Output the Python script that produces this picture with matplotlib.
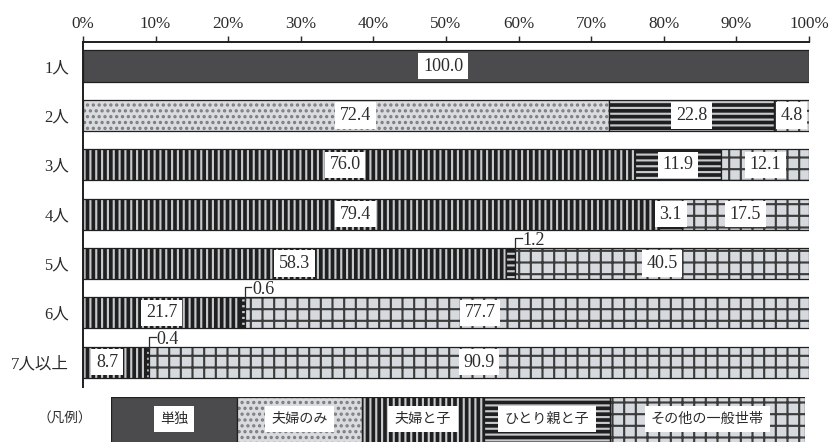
import matplotlib
matplotlib.use("Agg")
import matplotlib.pyplot as plt
from matplotlib.transforms import blended_transform_factory

# household size (rows) and household type (stacked segments), percent
rows = ["1人", "2人", "3人", "4人", "5人", "6人", "7人以上"]
categories = ["単独", "夫婦のみ", "夫婦と子", "ひとり親と子", "その他の一般世帯"]
single = [100.0, 0, 0, 0, 0, 0, 0]
couple_only = [0, 72.4, 0, 0, 0, 0, 0]
couple_child = [0, 0, 76.0, 79.4, 58.3, 21.7, 8.7]
single_parent = [0, 22.8, 11.9, 3.1, 1.2, 0.6, 0.4]
other = [0, 4.8, 12.1, 17.5, 40.5, 77.7, 90.9]
series = [single, couple_only, couple_child, single_parent, other]
xticks = [0, 10, 20, 30, 40, 50, 60, 70, 80, 90, 100]

# fill style per household type: face colour, hatch, hatch colour
# (stripes are light lines on a dark face)
styles = [
    dict(face="#4b4b4d", hatch=None, hcol="#4b4b4d"),
    dict(face="#d9dbde", hatch="..", hcol="#7a7c80"),
    dict(face="#1f1f1f", hatch="||", hcol="#c6cacd"),
    dict(face="#1f1f1f", hatch="--", hcol="#c6cacd"),
    dict(face="#d6d9dd", hatch="+", hcol="#3c3c3c"),
]
EDGE = "#202020"
TXT = "#2b2b2b"

# some value boxes sit off the segment centre
label_x = {(0, 0): 49.6, (1, 1): 37.5, (2, 2): 36.1, (3, 2): 37.5,
           (5, 4): 54.7, (6, 2): 3.3}

DPI = 70
plt.rcParams["font.family"] = ["Liberation Serif", "Noto Sans CJK JP"]
plt.rcParams["hatch.linewidth"] = 2.2
fig = plt.figure(figsize=(830 / DPI, 442 / DPI), dpi=DPI)
ax = fig.add_axes([83 / 830, 1 - 387 / 442, (809 - 83) / 830, (387 - 42) / 442])

BAR_H = 0.63


def draw_segment(axis, y, left, width, height, st):
    # filled + hatched body, then a plain dark outline on top
    axis.barh(y, width, left=left, height=height, color=st["face"],
              edgecolor=st["hcol"], hatch=st["hatch"], linewidth=0)
    axis.barh(y, width, left=left, height=height, fill=False,
              edgecolor=EDGE, linewidth=1.3)


box = dict(boxstyle="square,pad=0.26", facecolor="white", edgecolor="none")

for i in range(len(rows)):
    cum = 0.0
    for k, vals in enumerate(series):
        v = vals[i]
        if v <= 0:
            continue
        draw_segment(ax, i, cum, v, BAR_H, styles[k])
        if v >= 3:
            x = label_x.get((i, k), cum + v / 2)
            ax.text(x, i, f"{v:.1f}", ha="center", va="center", fontsize=18.5,
                    color=TXT, bbox=box, zorder=5)
        else:
            xe = cum + v
            ax.plot([xe, xe, xe + 0.9], [i - 0.26, i - 0.52, i - 0.52],
                    color=TXT, lw=1.3, zorder=5, clip_on=False)
            ax.text(xe + 1.0, i - 0.47, f"{v:.1f}", ha="left", va="center",
                    fontsize=18.5, color=TXT, zorder=5)
        cum += v

ax.set_xlim(0, 100)
ax.set_ylim(6.5, -0.486)
ax.xaxis.tick_top()
ax.set_xticks(xticks)
ax.set_xticklabels([f"{t}%" for t in xticks], fontsize=17.5, color=TXT)
ax.set_yticks(range(len(rows)))
ax.set_yticklabels(rows, fontsize=17, color=TXT)
ax.tick_params(axis="x", direction="out", length=6, width=1.5, pad=4, colors=TXT)
ax.tick_params(axis="y", length=0, pad=14.5)
for s in ("right", "bottom"):
    ax.spines[s].set_visible(False)
for s in ("top", "left"):
    ax.spines[s].set_linewidth(2)
    ax.spines[s].set_color("#1e1e1e")

# legend strip below the chart
leg_w = [126, 125, 122, 126, 195]
lax = fig.add_axes([111 / 830, -0.06, sum(leg_w) / 830, 0.1018 + 0.06])
lax.set_xlim(0, sum(leg_w))
lax.set_ylim(-0.5, 0.5)
lax.axis("off")
tr = blended_transform_factory(lax.transData, fig.transFigure)
cum = 0
for k, name in enumerate(categories):
    draw_segment(lax, 0, cum, leg_w[k], 1.0, styles[k])
    lax.text(cum + leg_w[k] / 2, 1 - 419 / 442, name, transform=tr,
             ha="center", va="center", fontsize=14.5, color=TXT,
             family="Noto Sans CJK JP",
             bbox=dict(boxstyle="square,pad=0.45", facecolor="white",
                       edgecolor="none"))
    cum += leg_w[k]

fig.text(65 / 830, 1 - 419 / 442, "（凡例）", ha="center", va="center",
         fontsize=14, color=TXT, family="Noto Sans CJK JP")

fig.savefig("out.png", dpi=DPI)
